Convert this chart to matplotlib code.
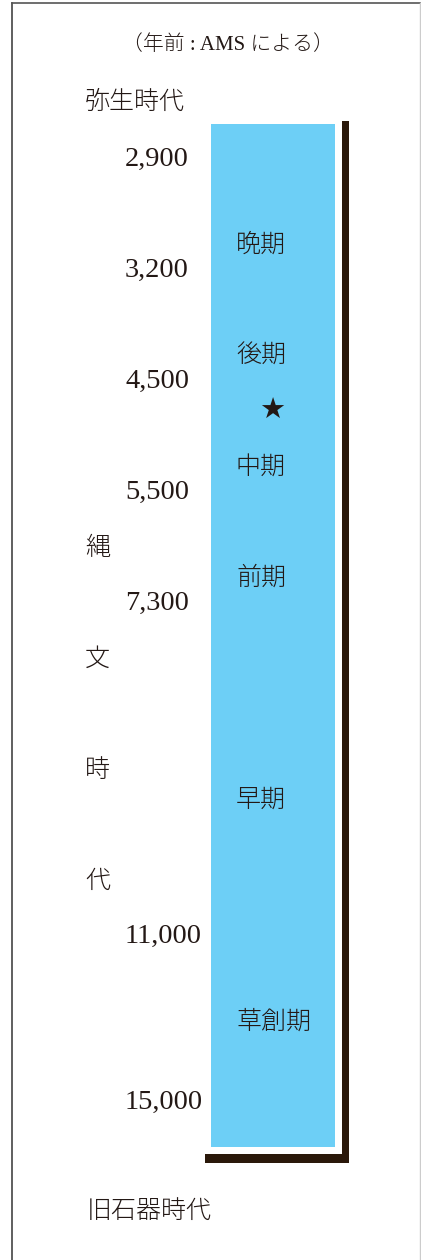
import matplotlib
matplotlib.use('Agg')
import matplotlib.pyplot as plt
from matplotlib.patches import Rectangle

# 年代（年前）とその行位置
years = ['2,900', '3,200', '4,500', '5,500', '7,300', '11,000', '15,000']
year_rows = [0, 1, 2, 3, 4, 7, 8.5]

# 縄文時代の時期区分
phases = ['晩期', '後期', '中期', '前期', '早期', '草創期']
phase_rows = [0.77, 1.77, 2.77, 3.77, 5.77, 7.77]

# 左側の時代名
era_top = '弥生時代'
era_chars = ['縄', '文', '時', '代']
era_rows = [3.5, 4.5, 5.5, 6.5]
era_bottom = '旧石器時代'
star_row = 2.27

bar_top, bar_bottom = -0.3, 8.92

W, H = 421, 1260
row0, step = 159, 111  # 行0のピクセル位置と行の間隔

ink = '#231815'
blue = '#6dcff6'
jp = ['Noto Sans CJK JP']
num = ['Liberation Serif', 'Noto Sans CJK JP']

fig = plt.figure(figsize=(W / 100, H / 100), dpi=100)
ax = fig.add_axes([0, 0, 1, 1])
ax.set_xlim(0, W)
ax.set_ylim((H - row0) / step, -row0 / step)
ax.axis('off')


def py(p):
    # ピクセル位置 -> 行座標
    return (p - row0) / step


# 外枠
ax.plot([12, 12], [ax.get_ylim()[0], py(3)], color='#444444', lw=1.2)
ax.plot([12, 420], [py(3)] * 2, color='#555555', lw=1.2)
ax.plot([420, 420], [py(3), ax.get_ylim()[0]], color='#cccccc', lw=1)

# 影（L字）
ax.add_patch(Rectangle((342, py(121)), 7, (1163 - 121) / step, color='#2a180a', lw=0))
ax.add_patch(Rectangle((205, py(1154)), 144, 9 / step, color='#2a180a', lw=0))

# 縄文時代の帯
ax.add_patch(Rectangle((211, py(124)), 124, (1147 - 124) / step, color=blue, lw=0))

ax.text(228, py(45), '（年前 : AMS による）', ha='center', va='center',
        fontsize=15, color=ink, family=num, fontweight='light')

ax.text(85, -0.52, era_top, ha='left', va='center', fontsize=18, color=ink,
        family=jp, fontweight='light')
for ch, r in zip(era_chars, era_rows):
    ax.text(85, r, ch, ha='left', va='center', fontsize=18, color=ink,
            family=jp, fontweight='light')
ax.text(87, 9.48, era_bottom, ha='left', va='center', fontsize=18, color=ink,
        family=jp, fontweight='light')

for y, r in zip(years, year_rows):
    ax.text(125, r, y, ha='left', va='center', fontsize=20.5, color=ink, family=num)

for p, r in zip(phases, phase_rows):
    ax.text(236, r, p, ha='left', va='center', fontsize=18, color=ink,
            family=jp, fontweight='light')

ax.text(272, star_row, '★', ha='center', va='center', fontsize=21, color=ink,
        family=['DejaVu Sans'])

fig.savefig('out.png', dpi=100, facecolor='white')
